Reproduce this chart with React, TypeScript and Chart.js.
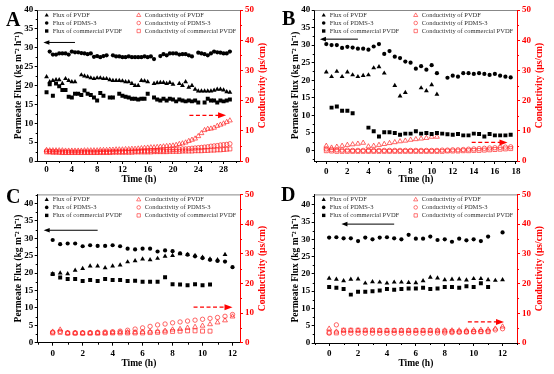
import { useEffect, useRef } from "react";
import { Chart, registerables } from "chart.js";
Chart.register(...registerables);

const FONT = '"Liberation Serif", "Times New Roman", serif';
const RED = "#ff0000";
const COND_RED = "rgba(255,30,30,0.85)";

// ---------- Panel A (0 – 29 h) ----------
const timesA = [0, 0.5, 1, 1.5, 2, 2.5, 3, 3.5, 4, 4.5, 5, 5.5, 6, 6.5, 7, 7.5, 8, 8.5, 9, 9.5, 10, 10.5, 11, 11.5, 12, 12.5, 13, 13.5, 14, 14.5, 15, 15.5, 16, 16.5, 17, 17.5, 18, 18.5, 19, 19.5, 20, 20.5, 21, 21.5, 22, 22.5, 23, 23.5, 24, 24.5, 25, 25.5, 26, 26.5, 27, 27.5, 28, 28.5, 29];
const fluxPvdfA = [22.3, 21.0, 21.3, 21.5, 21.5, 20.5, 21.8, 21.3, 21.0, 21.0, null, 22.8, 22.5, 22.3, 22.0, 21.8, 22.0, 22.0, 21.8, 21.8, 21.5, 21.3, 21.3, 21.3, 21.2, 21.0, 21.0, 20.5, 20.0, 20.0, 21.3, 21.2, 21.0, null, 20.5, 20.7, 20.8, 20.8, 20.5, 20.8, 20.3, null, 20.5, 20.0, 21.0, 19.5, 20.0, 19.0, 18.5, 18.5, 18.5, 18.5, 18.5, 18.7, 19.0, 19.0, 18.8, 18.3, 18.2];
const fluxPdmsA = [null, 29.0, 28.2, 28.2, 28.5, 28.5, 28.5, 28.2, 29.0, 28.8, 28.8, 28.6, 28.5, 28.3, 28.5, 27.6, 27.8, 27.5, 27.8, 28.0, null, 28.0, 27.7, 27.7, 27.5, 27.5, 27.7, 27.5, 27.5, 27.5, 27.5, 27.7, 27.5, 27.7, 27.0, null, 27.8, 28.3, 28.0, 28.5, 28.5, 28.5, 28.2, 28.3, 28.3, 28.0, 27.7, null, 28.7, 28.5, 28.3, 28.0, 28.5, 29.0, 28.8, 28.7, 28.5, 28.5, 29.0];
const fluxCommA = [18.2, 20.3, 17.3, 20.5, 19.8, 18.8, 18.8, 17.0, 16.8, 17.8, 17.8, 17.5, 18.7, 17.8, 17.5, 16.8, 16.0, 18.0, 17.3, null, 16.8, 16.8, null, 17.8, 17.3, 17.0, 16.8, 16.5, 16.5, 16.3, 16.5, 16.5, 17.8, null, 16.8, 16.3, 16.0, 16.5, 16.0, 16.5, 16.3, 15.8, 16.3, 16.0, 15.8, 16.0, 15.8, 16.0, 15.5, null, 15.5, 16.5, 16.0, 16.0, 15.5, 16.0, 15.8, 16.0, 16.3];
const condPvdfA = [3.6, 3.5, 3.5, 3.5, 3.5, 3.5, 3.4, 3.4, 3.4, 3.4, 3.4, 3.4, 3.5, 3.5, 3.5, 3.5, 3.5, 3.6, 3.6, 3.6, 3.7, 3.7, 3.8, 3.8, 3.8, 3.9, 3.9, 4.0, 4.0, 4.1, 4.2, 4.3, 4.4, 4.5, 4.5, 4.6, 4.7, 4.8, 4.9, 5.0, 5.1, 5.3, 5.6, 5.8, 6.1, 6.6, 7.0, 7.4, 8.2, 9.2, 10.2, 10.6, 10.7, 11.0, 11.6, 12.0, 12.4, 12.9, 13.4];
const condPdmsA = [3.3, 3.2, 3.1, 3.1, 3.0, 3.0, 3.0, 3.0, 3.0, 3.0, 3.0, 3.0, 3.0, 3.0, 3.0, 3.0, 3.0, 3.1, 3.1, 3.1, 3.1, 3.1, 3.2, 3.2, 3.2, 3.2, 3.3, 3.3, 3.3, 3.3, 3.4, 3.4, 3.4, 3.5, 3.5, 3.5, 3.6, 3.6, 3.7, 3.7, 3.8, 3.8, 3.9, 4.0, 4.0, 4.1, 4.2, 4.3, 4.4, 4.5, 4.6, 4.7, 4.9, 5.0, 5.1, 5.3, 5.4, 5.5, 5.7];
const condCommA = [3.0, 3.0, 2.9, 2.9, 2.9, 2.8, 2.8, 2.8, 2.8, 2.8, 2.8, 2.8, 2.8, 2.8, 2.8, 2.8, 2.8, 2.8, 2.8, 2.8, 2.8, 2.9, 2.9, 2.9, 2.9, 2.9, 2.9, 2.9, 3.0, 3.0, 3.0, 3.0, 3.0, 3.0, 3.1, 3.1, 3.1, 3.1, 3.1, 3.2, 3.2, 3.2, 3.2, 3.3, 3.3, 3.3, 3.3, 3.4, 3.4, 3.4, 3.5, 3.5, 3.6, 3.6, 3.7, 3.7, 3.8, 3.9, 4.0];

// ---------- Panel B (0 – 17.5 h) ----------
const timesB = [0, 0.5, 1, 1.5, 2, 2.5, 3, 3.5, 4, 4.5, 5, 5.5, 6, 6.5, 7, 7.5, 8, 8.5, 9, 9.5, 10, 10.5, 11, 11.5, 12, 12.5, 13, 13.5, 14, 14.5, 15, 15.5, 16, 16.5, 17, 17.5];
const fluxPvdfB = [22.3, 21.0, 22.5, 21.0, 22.3, 21.5, 21.0, 21.3, 21.5, 23.5, 23.8, 22.0, null, 18.5, 15.5, 16.5, null, null, 17.8, 17.0, 18.7, 16.0, null, null, null, null, null, null, null, null, null, null, null, null, null, null];
const fluxPdmsB = [30.3, 30.0, 30.0, 29.2, 29.5, 29.3, 29.0, 29.0, 28.7, 29.6, 30.3, 27.5, 28.3, 26.7, 26.3, 25.3, 25.0, 23.3, 24.0, 23.0, 24.3, 22.0, null, 20.7, 21.3, 21.0, 22.0, 22.0, 21.8, 22.0, 21.8, 21.5, 21.8, 21.3, 21.0, 20.8];
const fluxCommB = [null, 12.2, 12.5, 11.3, 11.3, 10.6, null, null, 6.5, 5.5, 4.0, 5.2, 5.2, 5.0, 4.5, 4.8, 4.8, 5.5, 4.8, 5.0, 4.7, 5.0, 4.8, 4.6, 4.5, 4.7, 4.3, 4.3, 4.8, 4.7, 4.0, 4.7, 4.3, 4.3, 4.3, 4.5];
const condPvdfB = [5.0, 4.4, 4.7, 5.0, 5.3, 5.5, 5.7, 6.0, 4.8, 5.0, 5.3, 5.6, 5.9, 6.2, 6.5, 6.7, 7.0, 7.2, 7.4, 7.6, 8.0, 8.0, null, null, null, null, null, null, null, null, null, null, null, null, null, null];
const condPdmsB = [4.0, 3.8, 3.7, 3.6, 3.6, 3.5, 3.5, 3.5, 3.5, 3.5, 3.5, 3.5, 3.5, 3.5, 3.5, 3.5, 3.5, 3.5, 3.5, 3.5, 3.5, 3.5, 3.6, 3.6, 3.7, 3.7, 3.8, 3.9, 4.0, 4.1, 4.2, 4.3, 4.4, 4.5, 4.6, 4.7];
const condCommB = [3.4, 3.3, 3.2, 3.2, 3.2, 3.2, 3.2, 3.2, 3.2, 3.2, 3.2, 3.2, 3.2, 3.2, 3.2, 3.2, 3.2, 3.2, 3.2, 3.2, 3.2, 3.2, 3.2, 3.3, 3.3, 3.3, 3.4, 3.4, 3.5, 3.5, 3.6, 3.7, 3.8, 3.9, 4.0, 4.1];

// ---------- Panel C (0 – 12 h) ----------
const timesC = [0, 0.5, 1, 1.5, 2, 2.5, 3, 3.5, 4, 4.5, 5, 5.5, 6, 6.5, 7, 7.5, 8, 8.5, 9, 9.5, 10, 10.5, 11, 11.5, 12];
const fluxPvdfC = [19.8, 20.0, 19.8, 20.8, 21.3, 22.0, 22.0, 21.5, 22.0, 22.3, 23.2, 23.5, 24.0, 23.8, 24.2, 24.8, 25.0, 25.5, 25.3, 25.0, 24.5, 24.0, 23.8, 25.3, null];
const fluxPdmsC = [29.5, 28.3, 28.5, 28.5, 27.7, 28.0, 27.8, 27.8, 28.0, 27.7, 27.0, 26.8, 27.0, 27.0, 26.2, 26.5, 26.3, 25.7, 25.3, 24.8, 24.3, 23.8, 23.5, 23.3, 21.7];
const fluxCommC = [19.7, 18.7, 18.3, 18.3, 17.7, 18.0, 17.7, 18.3, 18.0, 18.0, 17.7, 17.8, 17.5, 17.5, 17.5, 18.8, 16.8, 16.7, 16.5, 16.8, 16.5, 16.7, null, null, null];
const condPvdfC = [3.7, 4.4, 3.3, 3.3, 3.3, 3.3, 3.3, 3.3, 3.4, 3.5, 3.5, 3.5, 3.6, 3.7, 3.8, 4.0, 4.4, 4.6, 5.0, 5.3, 5.7, 6.2, 6.8, 7.5, 8.8];
const condPdmsC = [3.5, 3.8, 3.3, 3.3, 3.3, 3.4, 3.5, 3.6, 3.7, 3.9, 4.2, 4.6, 5.0, 5.5, 6.0, 6.3, 6.7, 7.0, 7.3, 7.6, 7.9, 8.2, 8.5, 8.9, 9.5];
const condCommC = [3.3, 3.5, 3.2, 3.2, 3.2, 3.2, 3.2, 3.2, 3.3, 3.3, 3.3, 3.3, 3.3, 3.4, 3.5, 3.6, 3.8, 3.9, 4.0, 4.0, 3.9, 3.9, null, null, null];

// ---------- Panel D (0 – 12 h) ----------
const timesD = [0, 0.5, 1, 1.5, 2, 2.5, 3, 3.5, 4, 4.5, 5, 5.5, 6, 6.5, 7, 7.5, 8, 8.5, 9, 9.5, 10, 10.5, 11, 11.5, 12];
const fluxPvdfD = [18.7, 18.4, 18.0, 18.4, 18.5, 17.3, 17.7, 17.6, 17.3, 17.6, 17.6, 17.5, 17.4, 18.0, 19.0, 18.8, 18.3, 18.4, 18.5, 18.2, 18.6, 18.6, 18.3, 18.1, 18.3];
const fluxPdmsD = [30.5, 30.6, 30.3, 30.3, 29.5, 30.5, 30.0, 30.5, 30.6, 30.3, 30.0, 31.3, 30.2, 30.2, 30.8, 29.8, 30.0, 29.3, 30.2, 29.7, 30.0, 29.5, 30.8, null, 32.0];
const fluxCommD = [16.2, 16.0, 15.6, 14.0, 14.8, 14.8, 15.0, 15.2, 15.6, 15.4, 15.6, 15.8, 15.8, 16.0, 15.6, 15.8, 16.2, 16.2, 16.0, 16.4, 16.2, 17.3, 16.2, null, null];
const condPvdfD = [4.8, 3.8, 4.2, 4.2, 4.2, 4.2, 4.2, 4.2, 4.2, 4.2, 4.2, 4.2, 4.2, 4.2, 4.2, 4.2, 4.2, 4.2, 4.2, 4.2, 4.3, 4.4, 4.5, 4.8, 5.5];
const condPdmsD = [3.3, 6.1, 3.3, 3.3, 3.3, 3.3, 3.3, 3.3, 3.3, 3.3, 3.3, 3.3, 3.3, 3.3, 3.3, 3.4, 3.4, 3.5, 3.6, 3.7, 3.8, 3.9, 4.0, 4.4, 4.8];
const condCommD = [3.6, 3.4, 4.3, 4.3, 4.3, 4.3, 4.3, 4.2, 4.2, 4.2, 4.2, 4.2, 4.2, 4.2, 4.2, 4.1, 4.0, 3.9, 3.8, 3.8, 3.8, 3.8, 3.8, null, null];

// ---------- Ticks, labels, arrows (data coordinates: x1, x2, y on flux axis) ----------
const leftTicks = [0, 5, 10, 15, 20, 25, 30, 35, 40];
const rightTicks = [0, 10, 20, 30, 40, 50];
const xTicksA = [0, 4, 8, 12, 16, 20, 24, 28];
const xTicksB = [0, 2, 4, 6, 8, 10, 12, 14, 16, 18];
const xTicksCD = [0, 2, 4, 6, 8, 10, 12];
const fluxLabels = ["Flux of PVDF", "Flux of PDMS-3", "Flux of commercial PVDF"];
const condLabels = ["Conductivity of PVDF", "Conductivity of PDMS-3", "Conductivity of commercial PVDF"];
const seriesStyles = ["triangle", "circle", "rect"];
const arrowBlackA = [-0.5, 4.5, 31.4];
const arrowRedA = [22.6, 28.4, 12.1];
const arrowBlackB = [-0.6, 3.0, 31.7];
const arrowRedB = [13.8, 17.2, 2.3];
const arrowBlackC = [-0.6, 3.0, 32.3];
const arrowRedC = [9.4, 12.0, 10.2];
const arrowBlackD = [0.85, 4.5, 34.4];
const arrowRedD = [9.6, 12.1, 6.1];

type Spec = {
  letter: string; letterX: number; letterY: number;
  times: number[]; flux: (number | null)[][]; cond: (number | null)[][];
  xMin: number; xMax: number; xTicks: number[]; yMin: number; yMax: number;
  padTop: number; xHeight: number; xTickPad: number; xTitlePad: number;
  black: number[]; red: number[];
};

const panels: Spec[] = [
  { letter: "A", letterX: 6, letterY: 26, times: timesA, flux: [fluxPvdfA, fluxPdmsA, fluxCommA], cond: [condPvdfA, condPdmsA, condCommA],
    xMin: -1.4, xMax: 30.6, xTicks: xTicksA, yMin: 0, yMax: 40, padTop: 10, xHeight: 26, xTickPad: 0.5, xTitlePad: 1.5, black: arrowBlackA, red: arrowRedA },
  { letter: "B", letterX: 5, letterY: 25, times: timesB, flux: [fluxPvdfB, fluxPdmsB, fluxCommB], cond: [condPvdfB, condPdmsB, condCommB],
    xMin: -1.1, xMax: 18.1, xTicks: xTicksB, yMin: -3, yMax: 40, padTop: 10, xHeight: 26, xTickPad: 2.5, xTitlePad: 1.5, black: arrowBlackB, red: arrowRedB },
  { letter: "C", letterX: 6, letterY: 16, times: timesC, flux: [fluxPvdfC, fluxPdmsC, fluxCommC], cond: [condPvdfC, condPdmsC, condCommC],
    xMin: -1, xMax: 12.5, xTicks: xTicksCD, yMin: 0, yMax: 42.6, padTop: 6, xHeight: 31.3, xTickPad: 2.5, xTitlePad: 4.5, black: arrowBlackC, red: arrowRedC },
  { letter: "D", letterX: 4, letterY: 14, times: timesD, flux: [fluxPvdfD, fluxPdmsD, fluxCommD], cond: [condPvdfD, condPdmsD, condCommD],
    xMin: -1, xMax: 13, xTicks: xTicksCD, yMin: 0, yMax: 43, padTop: 3, xHeight: 31, xTickPad: 2.5, xTitlePad: 4.5, black: arrowBlackD, red: arrowRedD },
];

const toPoints = (times: number[], vals: (number | null)[]) =>
  times.map((t, i) => (vals[i] == null ? null : { x: t, y: vals[i] as number })).filter(Boolean) as { x: number; y: number }[];

const pointR = (style: string) => (style === "circle" ? 2.1 : 2.8);

function drawMarker(ctx: CanvasRenderingContext2D, style: string, x: number, y: number, r: number, fill: string | null, stroke: string | null, lw: number) {
  ctx.beginPath();
  if (style === "triangle") {
    ctx.moveTo(x, y - r);
    ctx.lineTo(x + r * 0.866, y + r * 0.5);
    ctx.lineTo(x - r * 0.866, y + r * 0.5);
    ctx.closePath();
  } else if (style === "circle") {
    ctx.arc(x, y, r, 0, Math.PI * 2);
  } else {
    const s = r * 0.707;
    ctx.rect(x - s, y - s, 2 * s, 2 * s);
  }
  if (fill) { ctx.fillStyle = fill; ctx.fill(); }
  if (stroke) { ctx.strokeStyle = stroke; ctx.lineWidth = lw; ctx.stroke(); }
}

const midTicks = (majors: number[], lo: number, hi: number) => {
  const out: number[] = [];
  const step = majors[1] - majors[0];
  for (let v = majors[0] - step / 2; v <= majors[majors.length - 1] + step / 2 + 1e-9; v += step) {
    if (v >= lo && v <= hi) out.push(v);
  }
  return out;
};

function makePlugin(p: Spec) {
  return {
    id: "decor" + p.letter,
    afterDraw(chart: any) {
      const ctx: CanvasRenderingContext2D = chart.ctx;
      const ca = chart.chartArea;
      const xs = chart.scales.x, ys = chart.scales.y, y1 = chart.scales.y1;
      ctx.save();
      // top frame
      ctx.strokeStyle = "#888";
      ctx.lineWidth = 1;
      ctx.beginPath();
      ctx.moveTo(ca.left, ca.top + 0.5);
      ctx.lineTo(ca.right, ca.top + 0.5);
      ctx.stroke();
      // minor ticks
      ctx.lineWidth = 1;
      ctx.strokeStyle = "#000";
      for (const v of midTicks(p.xTicks, p.xMin, p.xMax)) {
        const px = Math.round(xs.getPixelForValue(v)) + 0.5;
        ctx.beginPath(); ctx.moveTo(px, ca.bottom); ctx.lineTo(px, ca.bottom + 2); ctx.stroke();
      }
      for (const v of midTicks(leftTicks, p.yMin, p.yMax)) {
        const py = Math.round(ys.getPixelForValue(v)) + 0.5;
        ctx.beginPath(); ctx.moveTo(ca.left - 2, py); ctx.lineTo(ca.left, py); ctx.stroke();
      }
      ctx.strokeStyle = RED;
      for (const v of midTicks(rightTicks, 0, 50)) {
        const py = Math.round(y1.getPixelForValue(v)) + 0.5;
        ctx.beginPath(); ctx.moveTo(ca.right, py); ctx.lineTo(ca.right + 2, py); ctx.stroke();
      }
      // black arrow (pointing left)
      {
        const xa = xs.getPixelForValue(p.black[0]);
        const xb = xs.getPixelForValue(p.black[1]);
        const y = ys.getPixelForValue(p.black[2]);
        ctx.strokeStyle = "#000"; ctx.fillStyle = "#000"; ctx.lineWidth = 1;
        ctx.beginPath(); ctx.moveTo(xa + 4, y); ctx.lineTo(xb, y); ctx.stroke();
        ctx.beginPath(); ctx.moveTo(xa, y); ctx.lineTo(xa + 6, y - 2.3); ctx.lineTo(xa + 6, y + 2.3); ctx.closePath(); ctx.fill();
      }
      // red dashed arrow (pointing right)
      {
        const xa = xs.getPixelForValue(p.red[0]);
        const xb = xs.getPixelForValue(p.red[1]);
        const y = ys.getPixelForValue(p.red[2]);
        ctx.strokeStyle = RED; ctx.fillStyle = RED; ctx.lineWidth = 1.3;
        ctx.setLineDash([4, 2.5]);
        ctx.beginPath(); ctx.moveTo(xa, y); ctx.lineTo(xb - 6, y); ctx.stroke();
        ctx.setLineDash([]);
        ctx.beginPath(); ctx.moveTo(xb, y); ctx.lineTo(xb - 8, y - 3); ctx.lineTo(xb - 8, y + 3); ctx.closePath(); ctx.fill();
      }
      // legend
      const cols = [ca.left + 9, ca.left + 101];
      const rows = [ca.top + 5.3, ca.top + 13, ca.top + 21];
      ctx.font = `6.5px ${FONT}`;
      ctx.textBaseline = "middle";
      ctx.textAlign = "left";
      for (let i = 0; i < 3; i++) {
        drawMarker(ctx, seriesStyles[i], cols[0], rows[i], seriesStyles[i] === "circle" ? 1.8 : 2.4, "#000", null, 0);
        ctx.fillStyle = "#333";
        ctx.fillText(fluxLabels[i], cols[0] + 6, rows[i]);
        drawMarker(ctx, seriesStyles[i], cols[1], rows[i], seriesStyles[i] === "circle" ? 1.8 : 2.4, null, COND_RED, 0.7);
        ctx.fillStyle = "#333";
        ctx.fillText(condLabels[i], cols[1] + 6, rows[i]);
      }
      // panel letter
      ctx.fillStyle = "#000";
      ctx.font = `bold 20px ${FONT}`;
      ctx.textBaseline = "alphabetic";
      ctx.fillText(p.letter, p.letterX, p.letterY);
      // right axis title (reads bottom-to-top)
      ctx.save();
      ctx.translate(262.5, (ca.top + ca.bottom) / 2);
      ctx.rotate(-Math.PI / 2);
      ctx.textAlign = "center";
      ctx.textBaseline = "middle";
      ctx.fillStyle = RED;
      ctx.font = `bold 9.5px ${FONT}`;
      ctx.fillText("Conductivity (μs/cm)", 0, 0);
      ctx.restore();
      ctx.restore();
    },
  };
}

function Panel({ p }: { p: Spec }) {
  const ref = useRef<HTMLCanvasElement>(null);
  useEffect(() => {
    if (!ref.current) return;
    const tickFont = { family: FONT, size: 9, weight: "bold" as const };
    const titleFont = { family: FONT, size: 9.5, weight: "bold" as const };
    const datasets: any[] = [];
    for (let i = 0; i < 3; i++) {
      datasets.push({
        label: fluxLabels[i],
        data: toPoints(p.times, p.flux[i]),
        yAxisID: "y",
        pointStyle: seriesStyles[i],
        pointRadius: pointR(seriesStyles[i]),
        backgroundColor: "#000",
        borderColor: "#000",
        borderWidth: 0,
      });
    }
    for (let i = 0; i < 3; i++) {
      datasets.push({
        label: condLabels[i],
        data: toPoints(p.times, p.cond[i]),
        yAxisID: "y1",
        pointStyle: seriesStyles[i],
        pointRadius: seriesStyles[i] === "circle" ? 2.2 : 2.8,
        backgroundColor: "rgba(0,0,0,0)",
        borderColor: COND_RED,
        borderWidth: 0.8,
      });
    }
    const chart = new Chart(ref.current, {
      type: "scatter",
      data: { datasets },
      options: {
        animation: false,
        responsive: false,
        maintainAspectRatio: false,
        layout: { padding: { top: p.padTop, left: 0, right: 0, bottom: 0 } },
        plugins: { legend: { display: false }, tooltip: { enabled: false } },
        scales: {
          x: {
            type: "linear",
            min: p.xMin,
            max: p.xMax,
            afterBuildTicks: (s: any) => { s.ticks = p.xTicks.map((v) => ({ value: v })); },
            afterFit: (s: any) => { s.height = p.xHeight; },
            ticks: { font: tickFont, color: "#000", padding: p.xTickPad, maxRotation: 0, autoSkip: false, callback: (v: any) => String(v) },
            grid: { drawOnChartArea: false, drawTicks: true, tickLength: 3, color: "#000" },
            border: { display: true, color: "#000", width: 1 },
            title: { display: true, text: "Time (h)", font: titleFont, color: "#000", padding: { top: 0, bottom: p.xTitlePad } },
          },
          y: {
            type: "linear",
            position: "left",
            min: p.yMin,
            max: p.yMax,
            afterBuildTicks: (s: any) => { s.ticks = leftTicks.map((v) => ({ value: v })); },
            afterFit: (s: any) => { s.width = 37.7; },
            ticks: { font: tickFont, color: "#000", padding: 1.5, autoSkip: false, callback: (v: any) => String(v) },
            grid: { drawOnChartArea: false, drawTicks: true, tickLength: 3, color: "#000" },
            border: { display: true, color: "#000", width: 1 },
            title: { display: true, text: "Permeate Flux (kg m⁻² h⁻¹)", font: titleFont, color: "#000", padding: { top: 12.8, bottom: 0 } },
          },
          y1: {
            type: "linear",
            position: "right",
            min: 0,
            max: 50,
            afterBuildTicks: (s: any) => { s.ticks = rightTicks.map((v) => ({ value: v })); },
            afterFit: (s: any) => { s.width = 37; },
            ticks: { font: tickFont, color: RED, padding: 2, autoSkip: false, callback: (v: any) => String(v) },
            grid: { drawOnChartArea: false, drawTicks: true, tickLength: 3, color: RED },
            border: { display: true, color: RED, width: 1 },
            title: { display: false },
          },
        },
      },
      plugins: [makePlugin(p)],
    } as any);
    return () => chart.destroy();
  }, [p]);
  return <canvas ref={ref} width={277} height={187} style={{ display: "block", width: 277, height: 187 }} />;
}

export default function App() {
  return (
    <div style={{ position: "absolute", left: 0, top: 0, width: 554, height: 374, background: "#fff" }}>
      {panels.map((p, i) => (
        <div key={p.letter} style={{ position: "absolute", left: (i % 2) * 277, top: Math.floor(i / 2) * 187, width: 277, height: 187 }}>
          <Panel p={p} />
        </div>
      ))}
    </div>
  );
}
